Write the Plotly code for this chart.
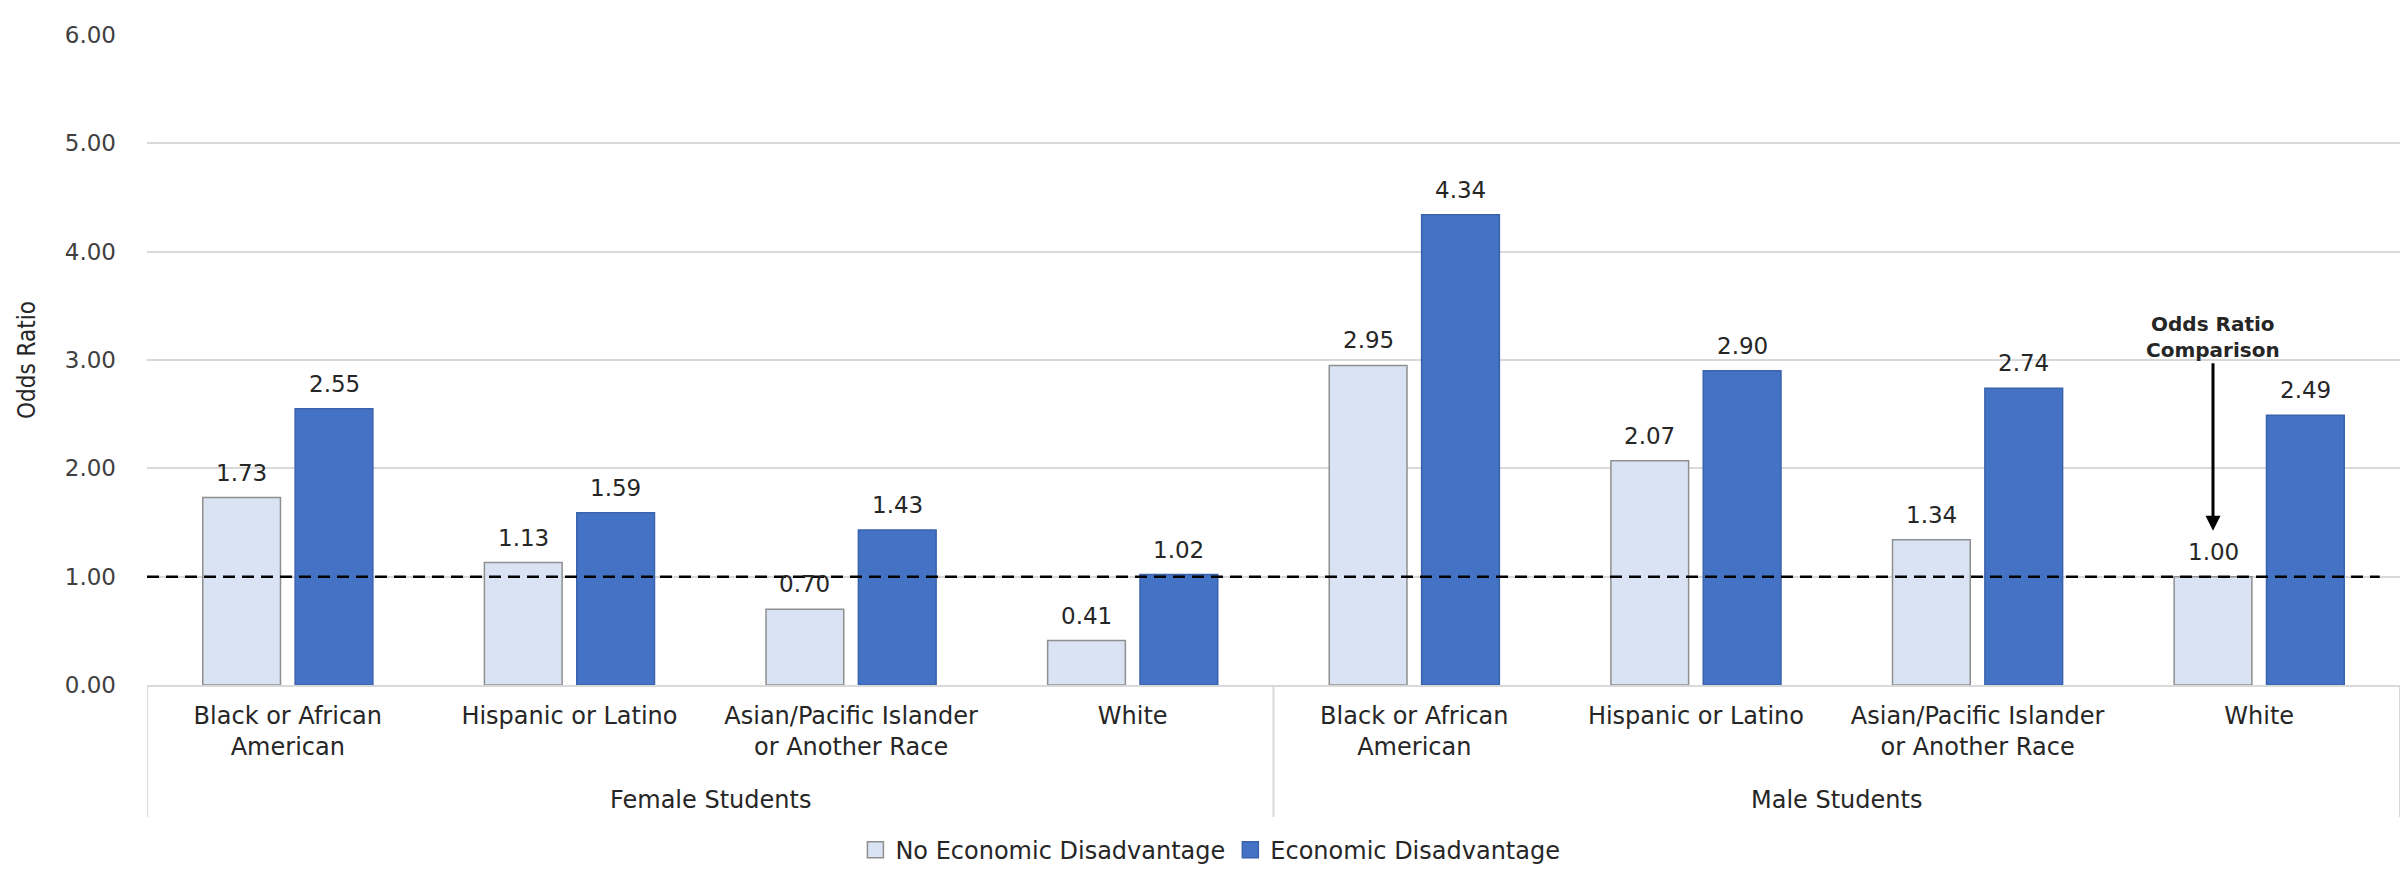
import plotly.graph_objects as go

# Chart data
groups = ["Female Students", "Male Students"]
races = [
    "Black or African<br>American",
    "Hispanic or Latino",
    "Asian/Pacific Islander<br>or Another Race",
    "White",
]
no_disadvantage = [1.73, 1.13, 0.70, 0.41, 2.95, 2.07, 1.34, 1.00]
disadvantage = [2.55, 1.59, 1.43, 1.02, 4.34, 2.90, 2.74, 2.49]
series_names = ["No Economic Disadvantage", "Economic Disadvantage"]
y_ticks = [0, 1, 2, 3, 4, 5, 6]
reference_odds = 1.0

# Styling
FONT = "DejaVu Sans"
TEXT = "#262626"
LIGHT = "#DAE3F3"
DARK = "#4472C4"
GRID = "#D9D9D9"
BAR_W = 0.276
OFFSETS = [-0.302, 0.026]

tick_labels = races * len(groups)
positions = list(range(len(tick_labels)))

fig = go.Figure()
for name, vals, color, edge, off in [
    (series_names[0], no_disadvantage, LIGHT, "#8F8F8F", OFFSETS[0]),
    (series_names[1], disadvantage, DARK, "#3A62AD", OFFSETS[1]),
]:
    fig.add_trace(go.Bar(
        x=positions, y=vals, name=name, width=BAR_W, offset=off,
        marker=dict(color=color, line=dict(color=edge, width=1.5)),
        hoverinfo="skip", showlegend=False,
    ))
    # larger square legend key for the series
    fig.add_trace(go.Scatter(
        x=[None], y=[None], mode="markers", name=name,
        marker=dict(symbol="square", size=18, color=color,
                    line=dict(color=edge, width=1.5)),
        showlegend=True, hoverinfo="skip",
    ))
    # value labels above each bar
    for xi, v in zip(positions, vals):
        fig.add_annotation(
            x=xi + off + BAR_W / 2, y=v, xref="x", yref="y",
            text=f"{v:.2f}", showarrow=False, yanchor="bottom", yshift=10,
            font=dict(family=FONT, size=23, color=TEXT),
        )

# reference line at odds ratio 1
fig.add_shape(type="line", xref="paper", yref="y", x0=0, x1=0.991,
              y0=reference_odds, y1=reference_odds, layer="above",
              line=dict(color="black", width=2.5, dash="12px,7px"))

# group dividers below the category axis
n_per = len(races)
for k in range(len(groups) + 1):
    xd = k * n_per - 0.5
    fig.add_shape(type="line", xref="x", yref="paper", x0=xd, x1=xd,
                  y0=0, y1=-0.203, line=dict(color=GRID, width=2))
for k, g in enumerate(groups):
    fig.add_annotation(x=k * n_per + (n_per - 1) / 2, y=-0.177, xref="x", yref="paper",
                       text=g, showarrow=False, yanchor="middle",
                       font=dict(family=FONT, size=24, color=TEXT))

# comparison callout pointing at the White male baseline group
ref_idx = len(tick_labels) - 1
ref_x = ref_idx + OFFSETS[0] + BAR_W / 2
fig.add_annotation(x=ref_x, y=no_disadvantage[ref_idx], xref="x", yref="y",
                   text="", showarrow=True, ax=0, ay=-169, yshift=46,
                   arrowhead=2, arrowsize=1, arrowwidth=3, arrowcolor="black")
fig.add_annotation(x=ref_x, y=3, xref="x", yref="y",
                   text="Odds Ratio<br>Comparison", showarrow=False,
                   yanchor="bottom", yshift=-4,
                   font=dict(family=FONT, size=20, color=TEXT, weight="bold"))

fig.update_layout(
    width=2402, height=880,
    margin=dict(l=147, r=2, t=35, b=195),
    paper_bgcolor="white", plot_bgcolor="white",
    barmode="overlay",
    showlegend=True,
    legend=dict(orientation="h", xanchor="center", x=0.472, yanchor="middle", y=-0.254,
                font=dict(family=FONT, size=24, color=TEXT), bgcolor="rgba(0,0,0,0)",
                itemsizing="trace"),
    font=dict(family=FONT, color=TEXT),
)
fig.update_xaxes(
    range=[-0.5, len(tick_labels) - 0.5], tickmode="array",
    tickvals=positions, ticktext=tick_labels,
    tickfont=dict(family=FONT, size=24, color=TEXT),
    showgrid=False, showline=True, linecolor=GRID, linewidth=2,
    ticks="", ticklabelstandoff=8, zeroline=False,
)
fig.update_yaxes(
    range=[0, 6], tickmode="array", tickvals=y_ticks, tickformat=".2f",
    tickfont=dict(family=FONT, size=23, color="#404040"),
    showgrid=True, gridcolor=GRID, gridwidth=1.5, zeroline=False,
    ticks="", ticklabelstandoff=30,
    title=dict(text="Odds Ratio", standoff=22,
               font=dict(family="Liberation Sans Narrow, DejaVu Sans Condensed, DejaVu Sans",
                         size=24, color=TEXT)),
)

fig.write_html("out.html")
